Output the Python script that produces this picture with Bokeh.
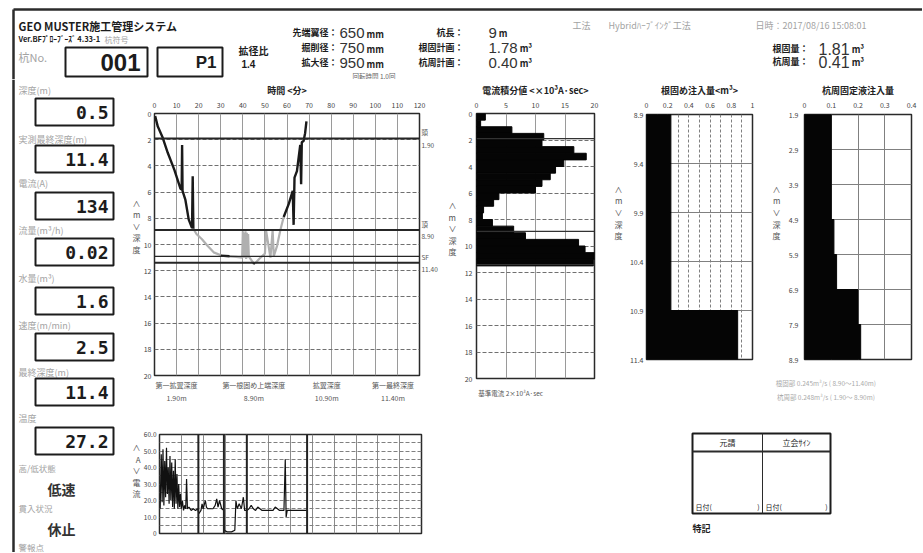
import numpy as np
from bokeh.plotting import figure
from bokeh.models import Range1d, FixedTicker, Span, LinearAxis, NumeralTickFormatter
from bokeh.layouts import row, column
from bokeh.core.properties import value
from bokeh.embed import file_html
from bokeh.resources import INLINE

FONT = "Noto Sans CJK JP"
LATIN = "Liberation Sans"
MONO = "DejaVu Sans Mono"
INK = "#1c1c1c"
SOFT = "#a3a3a3"
AXT = "#444444"
nan = np.nan

# ---------------- header values ----------------
system_name = "GEO MUSTER施工管理システム"
version_text = "Ver.BFﾌﾟﾛｰﾌﾞｰｽﾞ 4.33-1"
pile_no = "001"
pile_code = "P1"
expansion_ratio = "1.4"
spec_labels_left = ["先端翼径：", "掘削径：", "拡大径："]
spec_values_left = ["650", "750", "950"]
spec_units_left = ["mm", "mm", "mm"]
spec_labels_right = ["杭長：", "根固計画：", "杭周計画："]
spec_values_right = ["9", "1.78", "0.40"]
spec_units_right = ["m", "m³", "m³"]
result_labels = ["根固量：", "杭周量："]
result_values = ["1.81", "0.41"]
result_units = ["m³", "m³"]
method_name = "Hybridﾊｰﾌﾞｲﾝｸﾞ工法"
timestamp = "2017/08/16 15:08:01"
rotation_note = "回転時間 1.0回"

# ---------------- left panel values ----------------
panel_labels = ["深度(m)", "実測最終深度(m)", "電流(A)", "流量(m³/h)", "水量(m³)",
                "速度(m/min)", "最終深度(m)", "温度"]
panel_values = ["0.5", "11.4", "134", "0.02", "1.6", "2.5", "11.4", "27.2"]
status_labels = ["高/低状態", "貫入状況", "警報点"]
status_values = ["低速", "休止", ""]

# ---------------- main chart: time (min) vs depth (m) ----------------
time_ticks = [0, 10, 20, 30, 40, 50, 60, 70, 80, 90, 100, 110, 120]
depth_ticks = [0, 2, 4, 6, 8, 10, 12, 14, 16, 18, 20]
drill_t = np.array([0.3, 1.5, 3.5, 6.0, 9.0, 11.8, 12.3, 12.5, 12.7, 14.0, 15.5, 17.0, 17.3, 17.6,
                    nan, 30.0, 34.0, nan, 44.5, 45.5, nan,
                    58.5, 60.8, 62.6, 63.0, 63.4, 64.5, 66.0, 66.4, 66.7, 67.5, 68.2, 68.8])
drill_d = np.array([0.2, 1.0, 1.75, 3.0, 4.3, 5.75, 5.8, 2.4, 5.9, 6.6, 8.1, 8.75, 4.8, 8.8,
                    nan, 10.85, 10.9, nan, 11.4, 11.45, nan,
                    7.9, 6.9, 5.9, 8.5, 4.9, 4.4, 2.4, 5.4, 2.2, 2.1, 1.5, 0.6])
lift_t = np.array([17.6, 19.0, 21.5, 24.0, 26.8, 29.8, 30.0, nan,
                   34.0, 37.0, 39.7, 40.0, 40.3, 40.6, 40.9, 41.2, 41.5, 41.8, 42.1, 42.4, 42.7, 44.5, nan,
                   45.5, 48.0, 50.0, 50.5, 52.5, 53.5, 54.0, 55.5, 57.0, 58.5])
lift_d = np.array([8.8, 9.2, 9.6, 10.1, 10.6, 10.8, 10.85, nan,
                   10.9, 10.95, 11.0, 9.0, 11.0, 9.1, 11.0, 9.0, 11.1, 9.1, 11.0, 9.2, 10.9, 11.35, nan,
                   11.45, 11.0, 10.7, 8.9, 11.0, 8.9, 10.9, 10.1, 8.9, 7.9])
ref_depths = [1.90, 8.90, 10.90, 11.40]
ref_names = ["第一拡翼深度", "第一根固め上端深度", "拡翼深度", "第一最終深度"]
ref_marks = ["頭", "頂", "", "SF"]

# ---------------- current integral histogram ----------------
hist_ticks = [0, 5, 10, 15, 20]
hist_top = [0.0, 0.5, 1.0, 1.5, 2.0, 2.5, 3.0, 3.5, 4.0, 4.5, 5.0, 5.5, 6.0, 6.5, 7.0, 7.5,
            8.0, 8.5, 9.0, 9.5, 10.0, 10.5, 11.0]
hist_bin = 0.5
hist_val = [1.5, 0.7, 6.0, 11.4, 11.1, 16.5, 18.6, 14.8, 13.4, 12.5, 11.1, 10.0, 3.8, 2.9, 1.2, 1.0,
            2.7, 6.3, 8.3, 17.3, 18.4, 21.0, 19.8]
hist_ref = "基準電流 2×10³A·sec"

# ---------------- grout injection (root) ----------------
grout_ticks = [8.9, 9.4, 9.9, 10.4, 10.9, 11.4]
grout_x_ticks = [0, 0.2, 0.4, 0.6, 0.8, 1.0]
grout_top = [8.9, 9.4, 9.9, 10.4, 10.9]
grout_bot = [9.4, 9.9, 10.4, 10.9, 11.4]
grout_val = [0.23, 0.23, 0.23, 0.23, 0.86]

# ---------------- shaft grout injection ----------------
shaft_ticks = [1.9, 2.9, 3.9, 4.9, 5.9, 6.9, 7.9, 8.9]
shaft_x_ticks = [0, 0.1, 0.2, 0.3, 0.4]
shaft_top = [1.9, 2.9, 3.9, 4.9, 5.9, 6.9, 7.9]
shaft_bot = [2.9, 3.9, 4.9, 5.9, 6.9, 7.9, 8.9]
shaft_val = [0.10, 0.10, 0.10, 0.11, 0.12, 0.20, 0.21]
rate_notes = ["根固部 0.245m³/s ( 8.90～11.40m)", "杭周部 0.248m³/s ( 1.90～ 8.90m)"]

# ---------------- current vs time ----------------
cur_ticks = [0, 10, 20, 30, 40, 50, 60]
cur_t = [0.3, 0.8, 1.2, 1.6, 2.0, 2.4, 2.8, 3.2, 3.6, 4.0, 4.4, 4.8, 5.2, 5.6, 6.0, 6.4, 6.8, 7.2,
         7.6, 8.0, 8.4, 8.8, 9.2, 9.6, 10.0, 10.5, 11.0, 11.5, 12.0, 12.4, 12.8, 13.5, 14.5, 15.5,
         16.5, 17.5, 18.0, 19.0, 19.5, 20.0, 21.0, 21.5, 22.0, 23.0, 24.5, 25.5, 26.2, 26.8, 27.5,
         28.5, 29.4, 29.6, 31.0, 33.0, 34.5, 35.0, 35.6, 36.5, 37.5, 38.4, 39.0, 40.0, 41.0, 42.0,
         43.0, 44.0, 45.0, 47.0, 50.0, 52.0, 53.0, 54.0, 55.0, 57.0, 57.6, 58.0, 58.5, 60.0, 63.0,
         65.0, 67.5]
cur_a = [15, 48, 19, 51, 17, 44, 22, 52, 24, 40, 18, 47, 20, 43, 16, 38, 15, 45,
         18, 36, 15, 30, 16, 24, 15, 20, 14, 17, 15, 33, 15, 16, 14, 15,
         14, 15, 12, 14, 18, 15, 20, 16, 15, 15, 15, 17, 21, 16, 20,
         15, 14, 2, 1, 1, 2, 20, 15, 18, 15, 22, 14, 14, 15, 17,
         15, 14, 16, 14, 14, 14, 16, 15, 14, 14, 45, 10, 14, 14, 14,
         14, 14]
phase_t = [17.8, 29.5, 40.0, 67.6]

table_heads = ["元請", "立会ｻｲﾝ"]


# ================= helpers =================
def canvas(w, h, ox, oy):
    p = figure(width=w, height=h, x_range=Range1d(ox, ox + w), y_range=Range1d(oy + h, oy),
               output_backend="svg", toolbar_location=None, min_border=0,
               x_axis_location=None, y_axis_location=None)
    p.grid.visible = False
    p.outline_line_color = None
    p.background_fill_color = "white"
    p.border_fill_color = "white"
    p.frame_align = False
    return p


def txt(p, x, y, s, size=9, color=INK, bold=False, align="left", font=FONT):
    p.text(x=[x], y=[y], text=[s], text_font=value(font), text_font_size=f"{size}px",
           text_color=color, text_font_style="bold" if bold else "normal",
           text_align=align, text_baseline="middle")


def box(p, x0, y0, x1, y1, lw=2):
    p.quad(left=[x0], right=[x1], top=[y0], bottom=[y1], fill_color="white",
           line_color=INK, line_width=lw)


def seg(p, x0, y0, x1, y1, lw=2, color="#2b2b2b"):
    p.segment(x0=[x0], y0=[y0], x1=[x1], y1=[y1], line_color=color, line_width=lw)


def num_width(s, fs):
    return sum(0.278 * fs if c == "." else 0.556 * fs for c in s)


def style_axis(ax, size="7px", standoff=4):
    ax.axis_line_color = None
    ax.major_tick_line_color = None
    ax.minor_tick_line_color = None
    ax.major_tick_out = 0
    ax.major_tick_in = 0
    ax.minor_tick_out = 0
    ax.minor_tick_in = 0
    ax.major_label_text_font = FONT
    ax.major_label_text_font_size = size
    ax.major_label_text_color = AXT
    ax.major_label_standoff = standoff
    ax.axis_label_text_font = FONT
    ax.axis_label_text_font_size = "9px"
    ax.axis_label_text_font_style = "bold"
    ax.axis_label_text_color = "#222222"
    ax.axis_label_standoff = 2


def chart(w, h, xr, yr, lb, rb, tb, bb, xloc="above"):
    p = figure(width=w, height=h, x_range=xr, y_range=yr, output_backend="svg",
               toolbar_location=None, min_border_left=lb, min_border_right=rb,
               min_border_top=tb, min_border_bottom=bb, x_axis_location=xloc,
               y_axis_location="left")
    p.outline_line_color = "#2a2a2a"
    p.outline_line_width = 1.5
    p.background_fill_color = "white"
    p.border_fill_color = "white"
    p.frame_align = False
    for ax in p.axis:
        style_axis(ax)
    return p


def text_axis(p, side, ticks, labels, size="7px", standoff=3, color="#555555", lh=1.05):
    ax = LinearAxis(ticker=FixedTicker(ticks=ticks),
                    major_label_overrides={t: s for t, s in zip(ticks, labels)})
    style_axis(ax, size=size, standoff=standoff)
    ax.major_label_text_color = color
    ax.major_label_text_line_height = lh
    p.add_layout(ax, side)
    return ax


VERT_M = "∧\nm\n∨\n深\n度"
VERT_A = "∧\nA\n∨\n電\n流"

# ================= header canvas (x 0..922, y 0..79) =================
hdr = canvas(922, 79, 0, 0)
seg(hdr, 13, 9, 922, 9, lw=2.5)
seg(hdr, 13, 9, 13, 79, lw=2.5)
txt(hdr, 18, 25, system_name, 11, bold=True)
txt(hdr, 18, 38, version_text, 7.5, bold=True)
txt(hdr, 104, 39, "杭符号", 8, color=SOFT)
txt(hdr, 18, 56, "杭No.", 11, color=SOFT)
box(hdr, 65, 47, 147, 76)
txt(hdr, 140, 62, pile_no, 24, bold=True, align="right", font=LATIN)
box(hdr, 157, 47, 222, 76)
txt(hdr, 216, 62, pile_code, 17, bold=True, align="right", font=LATIN)
txt(hdr, 238, 50, "拡径比", 10, bold=True)
txt(hdr, 241, 63, expansion_ratio, 10, bold=True, font=LATIN)
spec_y = [32, 47, 62]
for i, y in enumerate(spec_y):
    txt(hdr, 337, y, spec_labels_left[i], 9, bold=True, align="right")
    txt(hdr, 339, y, spec_values_left[i], 15, color="#333333", font=LATIN)
    txt(hdr, 341 + num_width(spec_values_left[i], 15), y + 2, spec_units_left[i], 9, bold=True)
    txt(hdr, 463, y, spec_labels_right[i], 9, bold=True, align="right")
    txt(hdr, 488, y, spec_values_right[i], 15, color="#333333", font=LATIN)
    txt(hdr, 490 + num_width(spec_values_right[i], 15), y + 1, spec_units_right[i], 9, bold=True)
txt(hdr, 352, 75, rotation_note, 6.5, color="#666666")
txt(hdr, 572, 25, "工法", 9, color=SOFT)
txt(hdr, 608, 25, method_name, 9, color=SOFT)
txt(hdr, 755, 25, "日時：" + timestamp, 9, color=SOFT)
for i, y in enumerate([48, 61]):
    txt(hdr, 808, y, result_labels[i], 9, bold=True, align="right")
    txt(hdr, 818, y, result_values[i], 16, color="#333333", font=LATIN)
    txt(hdr, 820 + num_width(result_values[i], 16), y + 1, result_units[i], 9, bold=True)

# ================= left panel (x 0..129, y 79..552) =================
left = canvas(129, 473, 0, 79)
seg(left, 13, 79, 13, 552, lw=2.5)
label_y = [90, 139, 183, 230, 278, 325, 372, 418]
box_top = [98, 145, 192, 238, 287, 333, 378, 427]
for i in range(len(panel_labels)):
    txt(left, 18, label_y[i], panel_labels[i], 9, color=SOFT)
    box(left, 35, box_top[i], 113, box_top[i] + 27)
    txt(left, 108, box_top[i] + 14, panel_values[i], 18, bold=True, align="right", font=MONO)
status_y = [467, 507, 546]
for i in range(len(status_labels)):
    txt(left, 18, status_y[i], status_labels[i], 8.5, color=SOFT)
    if status_values[i]:
        txt(left, 47, status_y[i] + 21, status_values[i], 14, bold=True, color="#333333")

# ================= main chart (x 129..460, y 79..405) =================
main = chart(331, 326, Range1d(0, 120), Range1d(20, 0), 25, 41, 34, 27)
main.xaxis.ticker = FixedTicker(ticks=time_ticks)
main.xaxis.major_label_standoff = 6
main.yaxis.ticker = FixedTicker(ticks=depth_ticks)
main.yaxis.major_label_standoff = 3
main.xaxis.axis_label = "時間 <分>"
main.xgrid.grid_line_color = "#9a9a9a"
main.ygrid.grid_line_color = "#707070"
main.ygrid.grid_line_dash = "4 2"
ref_w = [2, 2, 1.3, 2]
for d, w in zip(ref_depths, ref_w):
    main.add_layout(Span(location=d, dimension="width", line_color="#262626", line_width=w))
main.line(lift_t, lift_d, line_color="#b0b0b0", line_width=2.2)
main.line(drill_t, drill_d, line_color="#1a1a1a", line_width=2.4)
label_x = [10, 45, 78, 108]
text_axis(main, "below", label_x,
          [f"{nm}\n{d:.2f}m" for nm, d in zip(ref_names, ref_depths)],
          size="7px", standoff=4, lh=1.3)
mark_d = [d for d, mk in zip(ref_depths, ref_marks) if mk]
mark_s = [f"{mk}\n{d:.2f}" for d, mk in zip(ref_depths, ref_marks) if mk]
text_axis(main, "right", mark_d, mark_s, size="6.5px", standoff=2, lh=1.25)
text_axis(main, "right", [8.8], [VERT_M], size="8px", standoff=8)
text_axis(main, "left", [8.6], [VERT_M], size="8px", standoff=0)

# ================= histogram (x 460..610) =================
hist = chart(150, 326, Range1d(0, 20), Range1d(20, 0), 16, 16, 34, 27)
hist.xaxis.ticker = FixedTicker(ticks=hist_ticks)
hist.xaxis.major_label_standoff = 6
hist.yaxis.ticker = FixedTicker(ticks=depth_ticks)
hist.yaxis.major_label_standoff = 4
hist.xaxis.axis_label = "電流積分値 <×10³A·sec>"
hist.xgrid.grid_line_color = "#9a9a9a"
hist.ygrid.grid_line_color = "#707070"
hist.ygrid.grid_line_dash = "4 2"
for d in [ref_depths[0], ref_depths[1], ref_depths[3]]:
    hist.add_layout(Span(location=d, dimension="width", line_color="#333333", line_width=1.2))
hist.quad(left=0, right=hist_val, top=hist_top, bottom=np.array(hist_top) + hist_bin,
          fill_color="#050505", line_color="#050505")
text_axis(hist, "below", [5.8], [hist_ref], size="6.5px", standoff=9)

# ================= grout injection chart (x 610..765) =================
c3 = chart(155, 326, Range1d(0, 1.0), Range1d(11.4, 8.9), 36, 13, 35, 46)
c3.xaxis.ticker = FixedTicker(ticks=grout_x_ticks)
c3.xaxis.major_label_overrides = {0: "0"}
c3.xaxis.major_label_standoff = 7
c3.yaxis.ticker = FixedTicker(ticks=grout_ticks)
c3.yaxis.major_label_standoff = 3
c3.xaxis.axis_label = "根固め注入量<m³>"
c3.xgrid.ticker = FixedTicker(ticks=[0.1, 0.2, 0.3, 0.4, 0.5, 0.6, 0.7, 0.8, 0.9])
c3.xgrid.grid_line_color = "#808080"
c3.xgrid.grid_line_dash = "3 2"
c3.ygrid.grid_line_color = "#808080"
c3.quad(left=0, right=grout_val, top=grout_top, bottom=grout_bot,
        fill_color="#050505", line_color="#050505")
text_axis(c3, "left", [9.9], [VERT_M], size="8px", standoff=4)

# ================= shaft injection chart (x 765..922) =================
c4 = chart(157, 326, Range1d(0, 0.4), Range1d(8.9, 1.9), 39, 11, 35, 46)
c4.xaxis.ticker = FixedTicker(ticks=shaft_x_ticks)
c4.xaxis.major_label_overrides = {0: "0"}
c4.xaxis.major_label_standoff = 7
c4.yaxis.ticker = FixedTicker(ticks=shaft_ticks)
c4.yaxis.major_label_standoff = 6
c4.xaxis.axis_label = "杭周固定液注入量"
c4.xgrid.grid_line_color = "#808080"
c4.ygrid.grid_line_color = "#808080"
c4.quad(left=0, right=shaft_val, top=shaft_top, bottom=shaft_bot,
        fill_color="#050505", line_color="#050505")
text_axis(c4, "left", [4.7], [VERT_M], size="8px", standoff=5)
text_axis(c4, "below", [0.08], ["\n".join(rate_notes)], size="6.5px", standoff=18,
          color="#aaaaaa", lh=1.45)

# ================= current vs time (x 129..460, y 405..552) =================
bch = chart(331, 147, Range1d(0, 120), Range1d(0, 60), 25, 39, 29, 19, xloc=None)
bch.yaxis.ticker = FixedTicker(ticks=cur_ticks)
bch.yaxis.formatter = NumeralTickFormatter(format="0.0")
bch.yaxis.major_label_overrides = {0: "0"}
bch.yaxis.major_label_standoff = 3
bch.yaxis.major_label_text_font_size = "6.5px"
bch.xgrid.ticker = FixedTicker(ticks=time_ticks)
bch.xgrid.grid_line_color = "#8a8a8a"
bch.ygrid.ticker = FixedTicker(ticks=[0, 5, 10, 15, 20, 25, 30, 35, 40, 45, 50, 55, 60])
bch.ygrid.grid_line_color = "#808080"
bch.ygrid.grid_line_dash = "4 2"
for t in phase_t:
    bch.add_layout(Span(location=t, dimension="height", line_color="#222222", line_width=2))
bch.line(cur_t, cur_a, line_color="#111111", line_width=1.2)
text_axis(bch, "left", [38], [VERT_A], size="8px", standoff=0)

# ================= bottom-right canvas (x 460..922, y 405..552) =================
brc = canvas(462, 147, 460, 405)
box(brc, 692, 433, 830, 513)
seg(brc, 692, 451, 830, 451, lw=2)
seg(brc, 762, 433, 762, 513, lw=1)
txt(brc, 727, 442, table_heads[0], 8, align="center")
txt(brc, 796, 442, table_heads[1], 8, align="center")
txt(brc, 695, 506, "日付(", 7)
txt(brc, 759, 506, ")", 7, align="right")
txt(brc, 765, 506, "日付(", 7)
txt(brc, 827, 506, ")", 7, align="right")
txt(brc, 692, 528, "特記", 9, bold=True)

# ================= layout =================
page = column(hdr,
              row(left,
                  column(row(main, hist, c3, c4),
                         row(bch, brc))))

open("out.html", "w").write(file_html(page, INLINE))
